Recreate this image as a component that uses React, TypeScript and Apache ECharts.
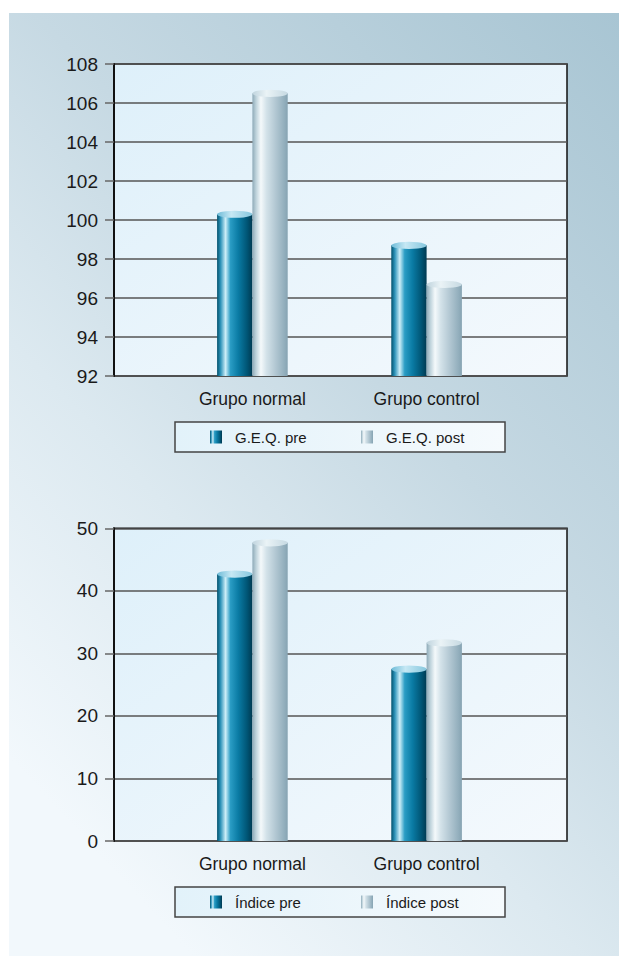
import React, { useEffect, useRef } from "react";
import * as echarts from "echarts";

const categories = ["Grupo normal", "Grupo control"];
const geqPre = [100.3, 98.7];
const geqPost = [106.5, 96.7];
const indicePre = [42.7, 27.5];
const indicePost = [47.7, 31.7];
const geqNames = ["G.E.Q. pre", "G.E.Q. post"];
const indiceNames = ["Índice pre", "Índice post"];
const geqAxis = { min: 92, max: 108, interval: 2 };
const indiceAxis = { min: 0, max: 50, interval: 10 };

const FONT = "'Liberation Sans', Arial, sans-serif";
const LG = echarts.graphic.LinearGradient;

const preBody = () =>
  new LG(0, 0, 1, 0, [
    { offset: 0, color: "#00506c" },
    { offset: 0.1, color: "#2f94ba" },
    { offset: 0.24, color: "#cdeef8" },
    { offset: 0.38, color: "#2a9cc4" },
    { offset: 0.6, color: "#0a7ba4" },
    { offset: 0.85, color: "#005575" },
    { offset: 1, color: "#003a52" },
  ]);
const postBody = () =>
  new LG(0, 0, 1, 0, [
    { offset: 0, color: "#8eaab8" },
    { offset: 0.1, color: "#bcd1da" },
    { offset: 0.24, color: "#f4f9fb" },
    { offset: 0.4, color: "#d3e2e9" },
    { offset: 0.65, color: "#b3c8d3" },
    { offset: 0.9, color: "#93afbd" },
    { offset: 1, color: "#86a3b2" },
  ]);
const preCap = () =>
  new LG(0, 0, 1, 0, [
    { offset: 0, color: "#6fbcd8" },
    { offset: 0.4, color: "#c6e8f4" },
    { offset: 1, color: "#86c7de" },
  ]);
const postCap = () =>
  new LG(0, 0, 1, 0, [
    { offset: 0, color: "#c0d4de" },
    { offset: 0.4, color: "#eaf3f6" },
    { offset: 1, color: "#c6d9e2" },
  ]);

const BAR_W = 35.3;

function barSeries(name: string, data: number[], axis: number, body: any) {
  return {
    type: "bar",
    name,
    data,
    xAxisIndex: axis,
    yAxisIndex: axis,
    barWidth: BAR_W,
    barGap: "0%",
    itemStyle: { color: body },
    z: 3,
  };
}
function capSeries(name: string, data: number[], axis: number, cap: any) {
  return {
    type: "pictorialBar",
    name: name + " cap",
    data,
    xAxisIndex: axis,
    yAxisIndex: axis,
    barWidth: BAR_W,
    barGap: "0%",
    symbol: "circle",
    symbolSize: [BAR_W, 7],
    symbolPosition: "end",
    symbolOffset: [0, "-50%"],
    itemStyle: { color: cap, borderColor: "rgba(230,245,250,0.8)", borderWidth: 0.5 },
    z: 5,
  };
}

function frameGrid(top: number, height: number) {
  return {
    left: 114,
    top,
    width: 453,
    height,
    show: true,
    backgroundColor: new LG(0, 0, 1, 1, [
      { offset: 0, color: "#def0fa" },
      { offset: 1, color: "#f4f9fd" },
    ]),
    borderColor: "#111",
    borderWidth: 1.5,
  };
}
function barGrid(top: number, height: number) {
  return { left: 165.3, top, width: 348.4, height };
}

function valueAxis(grid: number, ax: { min: number; max: number; interval: number }) {
  return {
    type: "value",
    gridIndex: grid,
    min: ax.min,
    max: ax.max,
    interval: ax.interval,
    axisLine: { show: true, lineStyle: { color: "#111", width: 2 } },
    axisTick: { show: true, length: 9, lineStyle: { color: "#666", width: 1.5 } },
    axisLabel: { fontSize: 19, color: "#1a1a1a", fontFamily: FONT, margin: 16 },
    splitLine: { show: true, lineStyle: { color: "#555", width: 1.5 } },
  };
}
function hiddenValueAxis(grid: number, ax: { min: number; max: number; interval: number }) {
  return { type: "value", gridIndex: grid, min: ax.min, max: ax.max, interval: ax.interval, show: false, splitLine: { show: false } };
}
function catAxis(grid: number) {
  return {
    type: "category",
    gridIndex: grid,
    data: categories,
    axisLine: { show: false },
    axisTick: { show: false },
    axisLabel: { fontSize: 17.5, color: "#1a1a1a", fontFamily: FONT, margin: 14 },
  };
}

function legend(names: string[], top: number) {
  return {
    data: names,
    left: 175,
    top,
    orient: "horizontal",
    icon: "rect",
    itemWidth: 12,
    itemHeight: 13,
    itemGap: 16,
    padding: [7, 9, 7, 35],
    backgroundColor: new LG(0, 0, 1, 0, [
      { offset: 0, color: "#e2f2fa" },
      { offset: 1, color: "#f5fafd" },
    ]),
    borderColor: "#444",
    borderWidth: 1.5,
    textStyle: { fontSize: 15, color: "#1a1a1a", fontFamily: FONT, width: 110, padding: [0, 0, 0, 8], lineHeight: 16 },
  };
}

export default function App() {
  const ref = useRef<HTMLDivElement>(null);
  useEffect(() => {
    if (!ref.current) return;
    const chart = echarts.init(ref.current, undefined, { renderer: "svg" });
    chart.setOption({
      animation: false,
      backgroundColor: "#ffffff",
      graphic: [
        {
          type: "rect",
          z: -10,
          silent: true,
          shape: { x: 9, y: 13, width: 610, height: 943 },
          style: {
            fill: new LG(1, 0, 0.3, 1, [
              { offset: 0, color: "#a8c5d3" },
              { offset: 0.45, color: "#c6d9e3" },
              { offset: 0.7, color: "#dce9f0" },
              { offset: 1, color: "#f2f8fc" },
            ]),
          },
        },
      ],
      grid: [frameGrid(64, 312), barGrid(64, 312), frameGrid(528.3, 312.7), barGrid(528.3, 312.7)],
      xAxis: [
        { type: "value", gridIndex: 0, show: false, min: 0, max: 1, splitLine: { show: false } },
        catAxis(1),
        { type: "value", gridIndex: 2, show: false, min: 0, max: 1, splitLine: { show: false } },
        catAxis(3),
      ],
      yAxis: [
        valueAxis(0, geqAxis),
        hiddenValueAxis(1, geqAxis),
        valueAxis(2, indiceAxis),
        hiddenValueAxis(3, indiceAxis),
      ],
      legend: [legend(geqNames, 422), legend(indiceNames, 887)],
      series: [
        barSeries(geqNames[0], geqPre, 1, preBody()),
        barSeries(geqNames[1], geqPost, 1, postBody()),
        capSeries(geqNames[0], geqPre, 1, preCap()),
        capSeries(geqNames[1], geqPost, 1, postCap()),
        barSeries(indiceNames[0], indicePre, 3, preBody()),
        barSeries(indiceNames[1], indicePost, 3, postBody()),
        capSeries(indiceNames[0], indicePre, 3, preCap()),
        capSeries(indiceNames[1], indicePost, 3, postCap()),
      ],
    });
    return () => chart.dispose();
  }, []);
  return <div ref={ref} style={{ position: "fixed", left: 0, top: 0, width: 619, height: 956 }} />;
}
